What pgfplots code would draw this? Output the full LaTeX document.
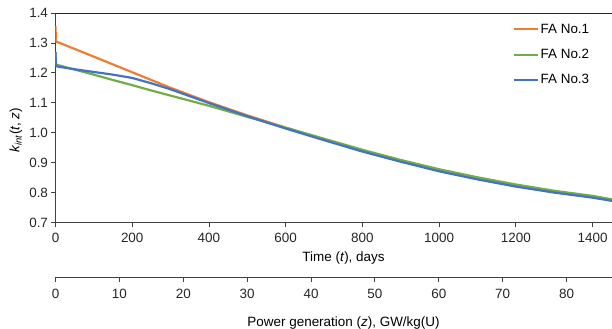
\documentclass[border=0pt]{standalone}
\usepackage{pgfplots}
\pgfplotsset{compat=1.18}
\usepackage{fontspec}
\setmainfont{Liberation Sans}
\definecolor{cOr}{HTML}{ED7D31}
\definecolor{cGr}{HTML}{70AD47}
\definecolor{cBl}{HTML}{4472C4}
\newcommand{\fs}{\fontsize{13.5}{15}\selectfont}
\begin{document}
\begin{tikzpicture}
\path[use as bounding box] (-55.5bp,-106.5bp) rectangle (556.5bp,222.5bp);
\pgfplotsset{
  every tick label/.append style={font=\fs, text=black!85},
  /pgf/number format/assume math mode=true,
}
\begin{axis}[
  at={(0,0)}, anchor=south west,
  scale only axis, width=557bp, height=209.5bp,
  xmin=0, xmax=1452, ymin=0.7, ymax=1.4,
  axis x line*=bottom, axis y line*=left,
  axis line style={black!75, line width=0.8pt},
  tick align=outside, major tick length=4bp,
  tick style={black!75, line width=0.8pt},
  xtick={0,200,...,1400}, ytick={0.7,0.8,...,1.41},
  yticklabel style={/pgf/number format/.cd, fixed, fixed zerofill, precision=1},
  xticklabel style={yshift=-3.5bp, /pgf/number format/.cd, fixed, 1000 sep={}},
  xlabel={Time (\textit{t}), days},
  xlabel style={at={(axis description cs:0.5171,-0.1695)}, anchor=center, font=\fs},
  ylabel={\textit{k}\textsubscript{\textit{int}}(\textit{t}, \textit{z})},
  ylabel style={at={(axis description cs:-0.071,0.44)}, anchor=center, rotate=0, font=\fs},
  legend cell align=left,
  legend style={at={(axis description cs:0.82,0.958)}, anchor=north west, draw=none, fill=none,
    font=\fs, row sep=10.5bp, inner sep=0pt},
  legend image code/.code={\draw[#1] (0bp,0bp) -- (24bp,0bp);},
  every axis plot/.append style={line width=2.2pt, line join=round},
]
\draw[black!85, line width=0.8pt] (rel axis cs:0,1) -- (rel axis cs:1,1);
\addplot[cOr] coordinates {
(0,1.357) (1,1.305) (50,1.280) (100,1.254) (150,1.228) (200,1.202) (250,1.176) (300,1.150)
(350,1.126) (400,1.102) (500,1.058) (600,1.017) (700,0.978) (800,0.940) (900,0.905)
(1000,0.873) (1100,0.846) (1200,0.822) (1300,0.802) (1400,0.785) (1452,0.774)};
\addlegendentry{FA No.1}
\addplot[cGr] coordinates {
(0,1.270) (1,1.228) (50,1.211) (100,1.194) (150,1.176) (200,1.159) (250,1.141) (300,1.124)
(350,1.107) (400,1.090) (500,1.053) (600,1.017) (700,0.980) (800,0.943) (900,0.909)
(1000,0.878) (1100,0.851) (1200,0.827) (1300,0.806) (1400,0.789) (1452,0.777)};
\addlegendentry{FA No.2}
\addplot[cBl] coordinates {
(0,1.270) (1,1.222) (50,1.212) (100,1.203) (150,1.194) (200,1.183) (250,1.165) (300,1.145)
(350,1.122) (400,1.099) (500,1.055) (600,1.014) (700,0.975) (800,0.937) (900,0.903)
(1000,0.871) (1100,0.844) (1200,0.820) (1300,0.800) (1400,0.783) (1452,0.772)};
\addlegendentry{FA No.3}
\end{axis}
\begin{axis}[
  at={(0,-55.2bp)}, anchor=south west,
  scale only axis, width=557bp, height=1bp,
  xmin=0, xmax=87.2, ymin=0, ymax=1,
  axis x line*=bottom, axis y line=none,
  axis line style={black!75, line width=0.8pt},
  tick align=outside, major tick length=4bp,
  tick style={black!75, line width=0.8pt},
  xtick={0,10,...,80},
  xticklabel style={yshift=-3.5bp},
  xlabel={Power generation (\textit{z}), GW/kg(U)},
  xlabel style={at={(axis description cs:0.5171,0)}, yshift=-45.3bp, anchor=center, font=\fs},
]
\end{axis}
\end{tikzpicture}
\end{document}
